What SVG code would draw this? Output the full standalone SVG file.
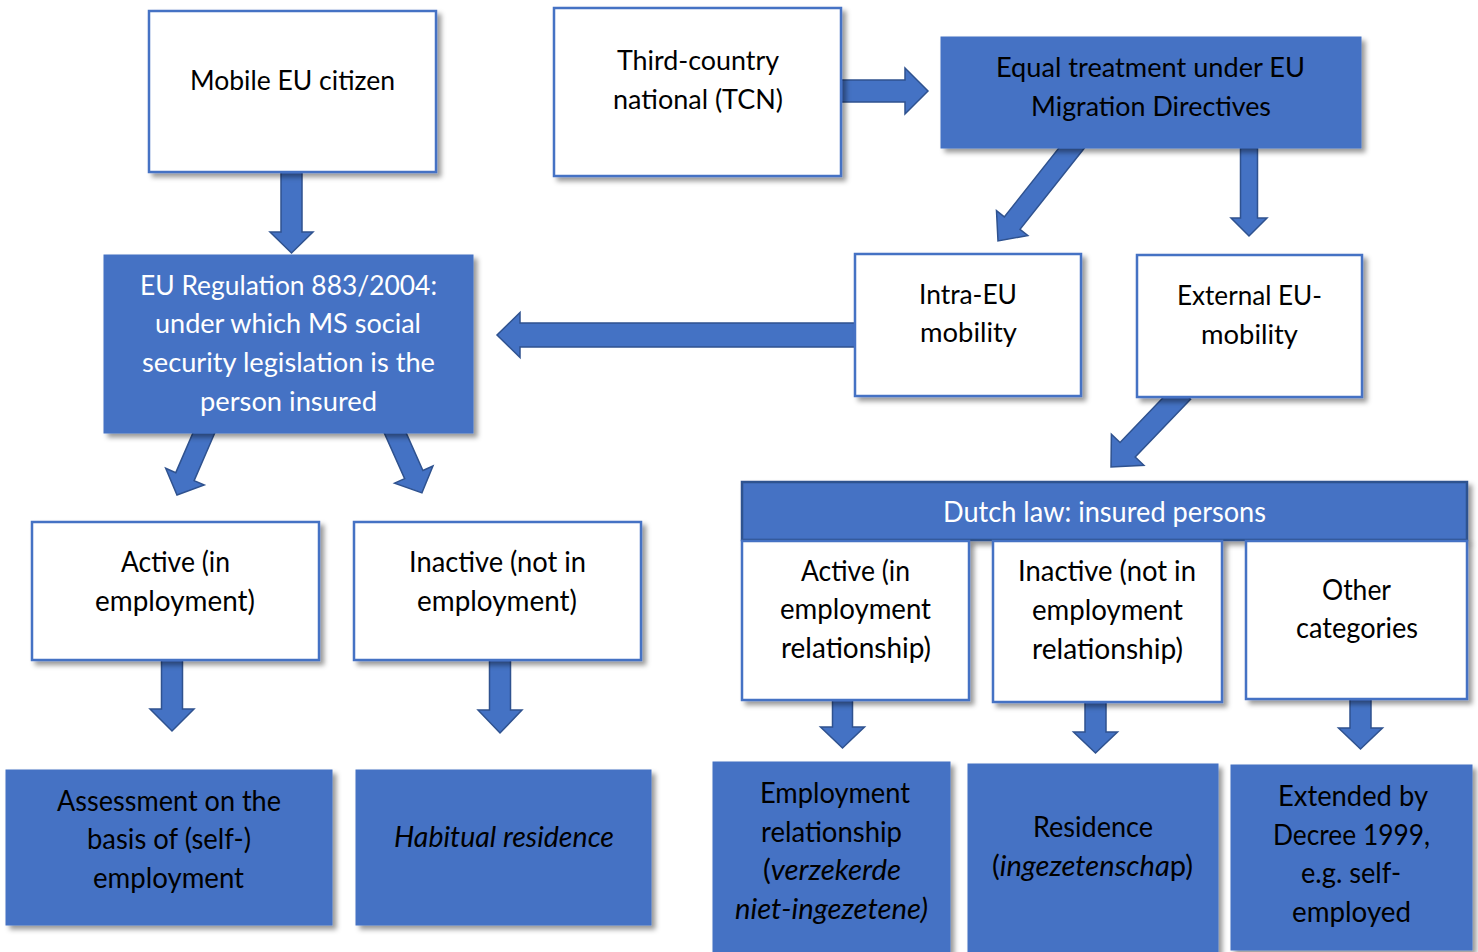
<svg xmlns="http://www.w3.org/2000/svg" width="1478" height="952" viewBox="0 0 1478 952">
  <defs>
    <filter id="shadow" x="-10%" y="-10%" width="125%" height="130%">
      <feDropShadow dx="4" dy="4" stdDeviation="2.5" flood-color="#000" flood-opacity="0.4"/>
    </filter>
    <style>
      .box { fill: #ffffff; stroke: #4472C4; stroke-width: 2.5; filter: url(#shadow); }
      .blue { fill: #4472C4; stroke: #4472C4; stroke-width: 1; filter: url(#shadow); }
      .head { fill: #4472C4; stroke: #2F528F; stroke-width: 2.5; filter: url(#shadow); }
      .arrow { fill: #4472C4; stroke: #2F528F; stroke-width: 1.5; }
      text { font-family: Lato, "Open Sans", sans-serif; text-anchor: middle; fill: #000; }
      .t { font-size: 26px; }
      .c { font-size: 28px; }
      .w { fill: #ffffff; }
      .i { font-style: italic; }
    </style>
  </defs>
  <rect width="1478" height="952" fill="#ffffff"/>

  <!-- block arrows: local shape points along +x, shaft half-width w, head half-width H, head length h -->
  <g id="connectors">
    <!-- Mobile EU citizen -> EU Regulation -->
    <path class="arrow" transform="translate(291.5,172) rotate(90)" d="M0,-10.5 L60,-10.5 L60,-21.5 L81,0 L60,21.5 L60,10.5 L0,10.5 Z"/>
    <!-- TCN -> Equal treatment -->
    <path class="arrow" transform="translate(841,91)" d="M0,-11 L64,-11 L64,-23 L87,0 L64,23 L64,11 L0,11 Z"/>
    <!-- Equal treatment -> Intra-EU mobility -->
    <path class="arrow" transform="translate(1078,140) rotate(128.4)" d="M0,-10 L106,-10 L106,-20 L128.8,0 L106,20 L106,10 L0,10 Z"/>
    <!-- Equal treatment -> External EU-mobility -->
    <path class="arrow" transform="translate(1249,148) rotate(90)" d="M0,-8.5 L70,-8.5 L70,-18 L88,0 L70,18 L70,8.5 L0,8.5 Z"/>
    <!-- Intra-EU mobility -> EU Regulation -->
    <path class="arrow" transform="translate(855,335) rotate(180)" d="M0,-12 L335,-12 L335,-22.5 L358,0 L335,22.5 L335,12 L0,12 Z"/>
    <!-- External EU-mobility -> Dutch law -->
    <path class="arrow" transform="translate(1183,392) rotate(133.8)" d="M0,-10.5 L80,-10.5 L80,-22.5 L104,0 L80,22.5 L80,10.5 L0,10.5 Z"/>
    <!-- EU Regulation -> Active -->
    <path class="arrow" transform="translate(206,428) rotate(113.4)" d="M0,-10 L53,-10 L53,-21 L73,0 L53,21 L53,10 L0,10 Z"/>
    <!-- EU Regulation -> Inactive -->
    <path class="arrow" transform="translate(393,428) rotate(65.96)" d="M0,-10 L51,-10 L51,-21 L71,0 L51,21 L51,10 L0,10 Z"/>
    <!-- Active -> Assessment -->
    <path class="arrow" transform="translate(172,659) rotate(90)" d="M0,-10.5 L50,-10.5 L50,-22 L72,0 L50,22 L50,10.5 L0,10.5 Z"/>
    <!-- Inactive -> Habitual residence -->
    <path class="arrow" transform="translate(500,659) rotate(90)" d="M0,-10.5 L51,-10.5 L51,-22 L74,0 L51,22 L51,10.5 L0,10.5 Z"/>
    <!-- Dutch active -> Employment relationship -->
    <path class="arrow" transform="translate(842.5,700) rotate(90)" d="M0,-10 L27,-10 L27,-22 L48,0 L27,22 L27,10 L0,10 Z"/>
    <!-- Dutch inactive -> Residence -->
    <path class="arrow" transform="translate(1095.5,702) rotate(90)" d="M0,-10.5 L30,-10.5 L30,-22 L51,0 L30,22 L30,10.5 L0,10.5 Z"/>
    <!-- Other categories -> Extended by Decree -->
    <path class="arrow" transform="translate(1360.5,699) rotate(90)" d="M0,-10.5 L29,-10.5 L29,-22 L50,0 L29,22 L29,10.5 L0,10.5 Z"/>
  </g>

  <g id="mobile-eu-citizen">
    <rect class="box" x="149" y="11" width="287" height="161"/>
    <text class="t" x="292.5" y="90" textLength="205" lengthAdjust="spacingAndGlyphs">Mobile EU citizen</text>
  </g>

  <g id="tcn">
    <rect class="box" x="554" y="8" width="287" height="168"/>
    <text class="t" x="698" y="70" textLength="162" lengthAdjust="spacingAndGlyphs">Third-country</text>
    <text class="t" x="698" y="109" textLength="170" lengthAdjust="spacingAndGlyphs">national (TCN)</text>
  </g>

  <g id="equal-treatment">
    <rect class="blue" x="941" y="37" width="420" height="111"/>
    <text class="t" x="1150.5" y="77" textLength="309" lengthAdjust="spacingAndGlyphs">Equal treatment under EU</text>
    <text class="t" x="1151" y="116" textLength="240" lengthAdjust="spacingAndGlyphs">Migration Directives</text>
  </g>

  <g id="intra-eu">
    <rect class="box" x="855" y="254" width="226" height="142"/>
    <text class="t" x="968" y="304" textLength="98" lengthAdjust="spacingAndGlyphs">Intra-EU</text>
    <text class="t" x="968.5" y="342" textLength="97" lengthAdjust="spacingAndGlyphs">mobility</text>
  </g>

  <g id="external-eu">
    <rect class="box" x="1137" y="255" width="225" height="142"/>
    <text class="t" x="1249.5" y="305" textLength="145" lengthAdjust="spacingAndGlyphs">External EU-</text>
    <text class="t" x="1249.5" y="344" textLength="97" lengthAdjust="spacingAndGlyphs">mobility</text>
  </g>

  <g id="eu-regulation">
    <rect class="blue" x="104" y="255" width="369" height="178"/>
    <text class="t w" x="288.5" y="295" textLength="297" lengthAdjust="spacingAndGlyphs">EU Regulation 883/2004:</text>
    <text class="t w" x="288" y="333" textLength="266" lengthAdjust="spacingAndGlyphs">under which MS social</text>
    <text class="t w" x="288.5" y="372" textLength="293" lengthAdjust="spacingAndGlyphs">security legislation is the</text>
    <text class="t w" x="288.5" y="411" textLength="177" lengthAdjust="spacingAndGlyphs">person insured</text>
  </g>

  <g id="active-eu">
    <rect class="box" x="32" y="522" width="287" height="138"/>
    <text class="c" x="175.5" y="572" textLength="109" lengthAdjust="spacingAndGlyphs">Active (in</text>
    <text class="c" x="175" y="611" textLength="160" lengthAdjust="spacingAndGlyphs">employment)</text>
  </g>

  <g id="inactive-eu">
    <rect class="box" x="354" y="522" width="287" height="138"/>
    <text class="c" x="497.5" y="572" textLength="177" lengthAdjust="spacingAndGlyphs">Inactive (not in</text>
    <text class="c" x="497" y="611" textLength="160" lengthAdjust="spacingAndGlyphs">employment)</text>
  </g>

  <g id="assessment">
    <rect class="blue" x="6" y="770" width="326" height="155"/>
    <text class="c" x="169" y="811" textLength="224" lengthAdjust="spacingAndGlyphs">Assessment on the</text>
    <text class="c" x="169" y="849" textLength="164" lengthAdjust="spacingAndGlyphs">basis of (self-)</text>
    <text class="c" x="168.5" y="888" textLength="151" lengthAdjust="spacingAndGlyphs">employment</text>
  </g>

  <g id="habitual-residence">
    <rect class="blue" x="356" y="770" width="295" height="155"/>
    <text class="c i" x="504" y="847" textLength="220" lengthAdjust="spacingAndGlyphs">Habitual residence</text>
  </g>

  <g id="dutch-law">
    <rect class="head" x="742" y="482" width="725" height="58"/>
    <text class="c w" x="1104.5" y="522" textLength="323" lengthAdjust="spacingAndGlyphs">Dutch law: insured persons</text>
  </g>

  <g id="active-nl">
    <rect class="box" x="742" y="541" width="227" height="159"/>
    <text class="c" x="855.5" y="581" textLength="109" lengthAdjust="spacingAndGlyphs">Active (in</text>
    <text class="c" x="855.5" y="619" textLength="151" lengthAdjust="spacingAndGlyphs">employment</text>
    <text class="c" x="856" y="658" textLength="150" lengthAdjust="spacingAndGlyphs">relationship)</text>
  </g>

  <g id="inactive-nl">
    <rect class="box" x="993" y="541" width="229" height="161"/>
    <text class="c" x="1107" y="581" textLength="178" lengthAdjust="spacingAndGlyphs">Inactive (not in</text>
    <text class="c" x="1107.5" y="620" textLength="151" lengthAdjust="spacingAndGlyphs">employment</text>
    <text class="c" x="1107.5" y="659" textLength="151" lengthAdjust="spacingAndGlyphs">relationship)</text>
  </g>

  <g id="other-categories">
    <rect class="box" x="1246" y="541" width="221" height="158"/>
    <text class="c" x="1356.5" y="600" textLength="69" lengthAdjust="spacingAndGlyphs">Other</text>
    <text class="c" x="1357" y="638" textLength="122" lengthAdjust="spacingAndGlyphs">categories</text>
  </g>

  <g id="employment-relationship">
    <rect class="blue" x="713" y="762" width="237" height="195"/>
    <text class="c" x="835" y="803" textLength="150" lengthAdjust="spacingAndGlyphs">Employment</text>
    <text class="c" x="831.5" y="842" textLength="141" lengthAdjust="spacingAndGlyphs">relationship</text>
    <text class="c" x="832" y="880" textLength="138" lengthAdjust="spacingAndGlyphs">(<tspan class="i">verzekerde</tspan></text>
    <text class="c i" x="831.5" y="919" textLength="193" lengthAdjust="spacingAndGlyphs">niet-ingezetene)</text>
  </g>

  <g id="residence">
    <rect class="blue" x="968" y="764" width="250" height="193"/>
    <text class="c" x="1093" y="837" textLength="120" lengthAdjust="spacingAndGlyphs">Residence</text>
    <text class="c" x="1092.5" y="876" textLength="201" lengthAdjust="spacingAndGlyphs">(<tspan class="i">ingezetenscha</tspan>p)</text>
  </g>

  <g id="extended-decree">
    <rect class="blue" x="1231" y="765" width="241" height="185"/>
    <text class="c" x="1353" y="806" textLength="150" lengthAdjust="spacingAndGlyphs">Extended by</text>
    <text class="c" x="1351.5" y="845" textLength="157" lengthAdjust="spacingAndGlyphs">Decree 1999,</text>
    <text class="c" x="1351" y="883" textLength="100" lengthAdjust="spacingAndGlyphs">e.g. self-</text>
    <text class="c" x="1351.5" y="922" textLength="119" lengthAdjust="spacingAndGlyphs">employed</text>
  </g>
</svg>
